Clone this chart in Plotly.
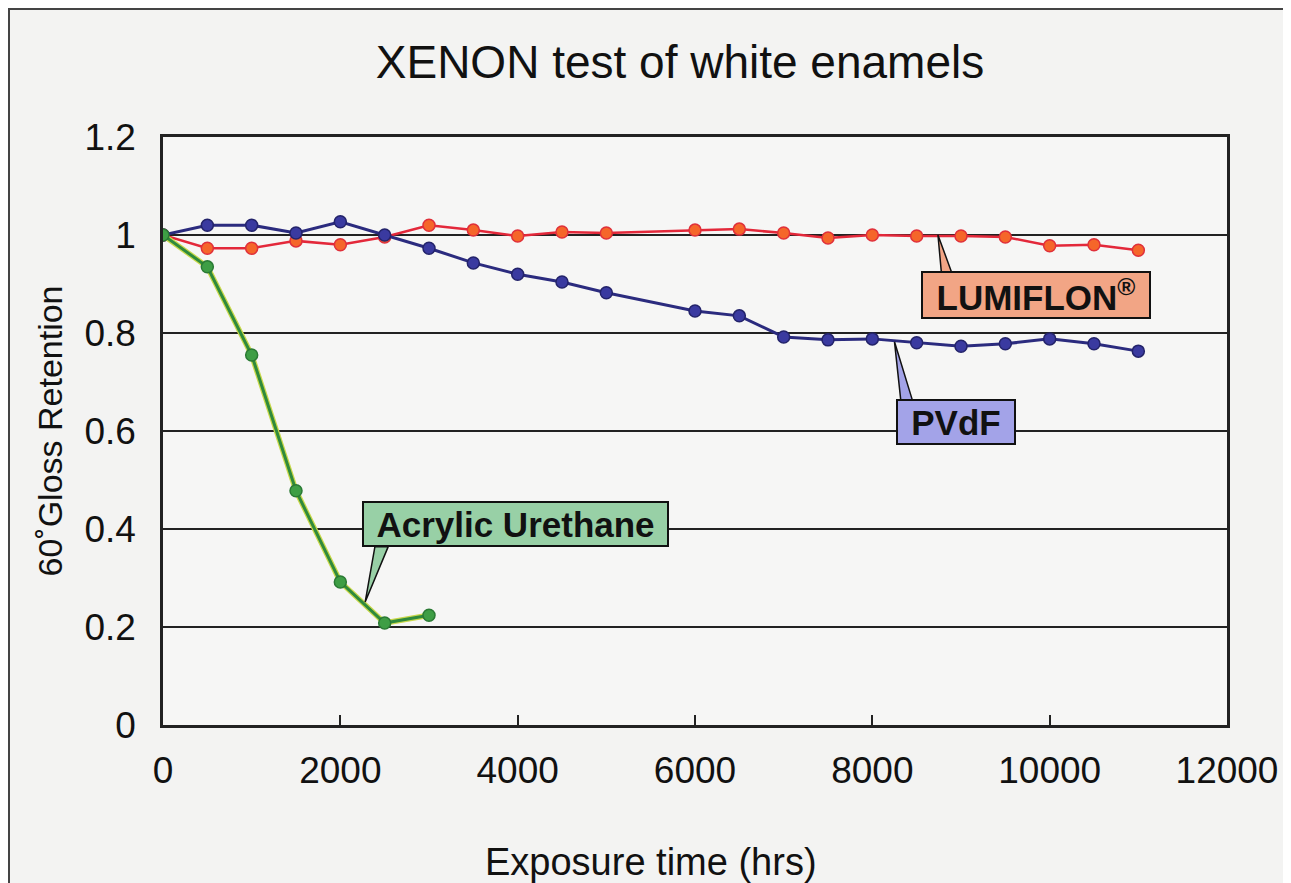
import plotly.graph_objects as go

# ---- data ----
hours_lumiflon = [0, 500, 1000, 1500, 2000, 2500, 3000, 3500, 4000, 4500, 5000,
                  6000, 6500, 7000, 7500, 8000, 8500, 9000, 9500, 10000, 10500, 11000]
lumiflon = [1.0, 0.973, 0.973, 0.988, 0.980, 0.996, 1.020, 1.010, 0.998, 1.006, 1.004,
            1.010, 1.012, 1.004, 0.994, 1.000, 0.998, 0.998, 0.996, 0.978, 0.980, 0.969]

hours_pvdf = [0, 500, 1000, 1500, 2000, 2500, 3000, 3500, 4000, 4500, 5000,
              6000, 6500, 7000, 7500, 8000, 8500, 9000, 9500, 10000, 10500, 11000]
pvdf = [1.0, 1.020, 1.020, 1.004, 1.027, 1.000, 0.973, 0.943, 0.920, 0.904, 0.882,
        0.845, 0.835, 0.792, 0.786, 0.788, 0.780, 0.773, 0.778, 0.788, 0.778, 0.763]

hours_acrylic = [0, 500, 1000, 1500, 2000, 2500, 3000]
acrylic = [1.0, 0.935, 0.755, 0.478, 0.292, 0.208, 0.224]

x_ticks = [0, 2000, 4000, 6000, 8000, 10000, 12000]
y_ticks = [0, 0.2, 0.4, 0.6, 0.8, 1.0, 1.2]
y_tick_labels = ["0", "0.2", "0.4", "0.6", "0.8", "1", "1.2"]

# callout labels: text, box centre (x, y), pointer tip (x, y), pointer base x-range, base y, fill, w, h
callouts = [
    ("LUMIFLON<sup>®</sup>", 9850, 0.878, 8740, 1.000, 8780, 8900, 0.921, "#f2a585", 226, 44),
    ("PVdF", 8945, 0.618, 8250, 0.782, 8320, 8450, 0.664, "#a3a3e8", 116, 42),
    ("Acrylic Urethane", 3975, 0.410, 2280, 0.251, 2390, 2540, 0.364, "#98d0a6", 303, 42),
]

FONT = "Liberation Sans, Arial, Helvetica, sans-serif"

# figure geometry (page body adds an 8px offset)
W, H = 1283, 875
ML, MT, PW, PH = 155, 129, 1064, 588


def px(fx):
    return (fx - ML) / PW


def py(fy):
    return (MT + PH - fy) / PH


fig = go.Figure()

fig.add_trace(go.Scatter(
    x=hours_lumiflon, y=lumiflon, mode="lines+markers", name="LUMIFLON",
    line=dict(color="#e3283a", width=2.5),
    marker=dict(size=12, color="#f5662a", line=dict(color="#e0303a", width=1.5)),
))
fig.add_trace(go.Scatter(
    x=hours_pvdf, y=pvdf, mode="lines+markers", name="PVdF",
    line=dict(color="#2b2b7e", width=3),
    marker=dict(size=12, color="#3a3aa0", line=dict(color="#23236a", width=1.5)),
))
fig.add_trace(go.Scatter(
    x=hours_acrylic, y=acrylic, mode="lines", showlegend=False, hoverinfo="skip",
    line=dict(color="#c9d84a", width=5.5),
))
fig.add_trace(go.Scatter(
    x=hours_acrylic, y=acrylic, mode="lines+markers", name="Acrylic Urethane",
    line=dict(color="#2f8a3c", width=3),
    marker=dict(size=12, color="#3e9e45", line=dict(color="#2a7a34", width=1.5)),
))

shapes = []
annotations = []
for (txt, cx, cy, tx, ty, bx0, bx1, by, fill, w, h) in callouts:
    shapes.append(dict(
        type="path", xref="x", yref="y",
        path=f"M {tx},{ty} L {bx0},{by} L {bx1},{by} Z",
        fillcolor=fill, line=dict(color="#111111", width=1.5), layer="above",
    ))
    annotations.append(dict(
        x=cx, y=cy, xref="x", yref="y", text=f"<b>{txt}</b>", showarrow=False,
        font=dict(family=FONT, size=35, color="#111111"),
        bgcolor=fill, bordercolor="#111111", borderwidth=2, borderpad=0,
        width=w, height=h, xanchor="center", yanchor="middle",
    ))

# x-axis title (sits left of the plot centre in the reference)
annotations.append(dict(
    text="Exposure time (hrs)", xref="paper", yref="paper",
    x=px(643), y=py(854), xanchor="center", yanchor="middle", showarrow=False,
    font=dict(family=FONT, size=38, color="#111111"),
))

# scan frame: dark top/left edge, white strip on the right
shapes += [
    dict(type="rect", xref="paper", yref="paper", x0=px(1275), x1=px(W + 10),
         y0=py(H + 10), y1=py(-10), fillcolor="white", line=dict(width=0), layer="below"),
    dict(type="line", xref="paper", yref="paper", x0=px(0), x1=px(1275),
         y0=py(1), y1=py(1), line=dict(color="#444444", width=2), layer="below"),
    dict(type="line", xref="paper", yref="paper", x0=px(1), x1=px(1),
         y0=py(H + 10), y1=py(0), line=dict(color="#444444", width=2), layer="below"),
]

fig.update_layout(
    width=W, height=H,
    margin=dict(l=ML, r=W - ML - PW, t=MT, b=H - MT - PH),
    paper_bgcolor="#f3f3f2",
    plot_bgcolor="#f6f6f5",
    showlegend=False,
    title=dict(text="XENON test of white enamels", x=672 / W, xanchor="center",
               y=1 - 54 / H, yanchor="middle",
               font=dict(family=FONT, size=46, color="#111111")),
    font=dict(family=FONT, color="#111111"),
    xaxis=dict(
        range=[0, 12000], tickvals=x_ticks, ticktext=[str(v) for v in x_ticks],
        ticks="inside", ticklen=10, tickwidth=2, tickcolor="#222222",
        showgrid=False, zeroline=False,
        showline=True, linecolor="#222222", linewidth=2.5, mirror=True,
        tickfont=dict(family=FONT, size=37, color="#111111"),
        ticklabelstandoff=11,
    ),
    yaxis=dict(
        range=[0, 1.2], tickvals=y_ticks, ticktext=y_tick_labels,
        ticks="", showgrid=True, gridcolor="#222222", gridwidth=2,
        zeroline=False,
        showline=True, linecolor="#222222", linewidth=2.5, mirror=True,
        tickfont=dict(family=FONT, size=37, color="#111111"),
        ticklabelstandoff=17,
        title=dict(text="60˚Gloss Retention", font=dict(family=FONT, size=34, color="#111111"),
                   standoff=12),
    ),
    shapes=shapes,
    annotations=annotations,
)

fig.write_html("out.html")
